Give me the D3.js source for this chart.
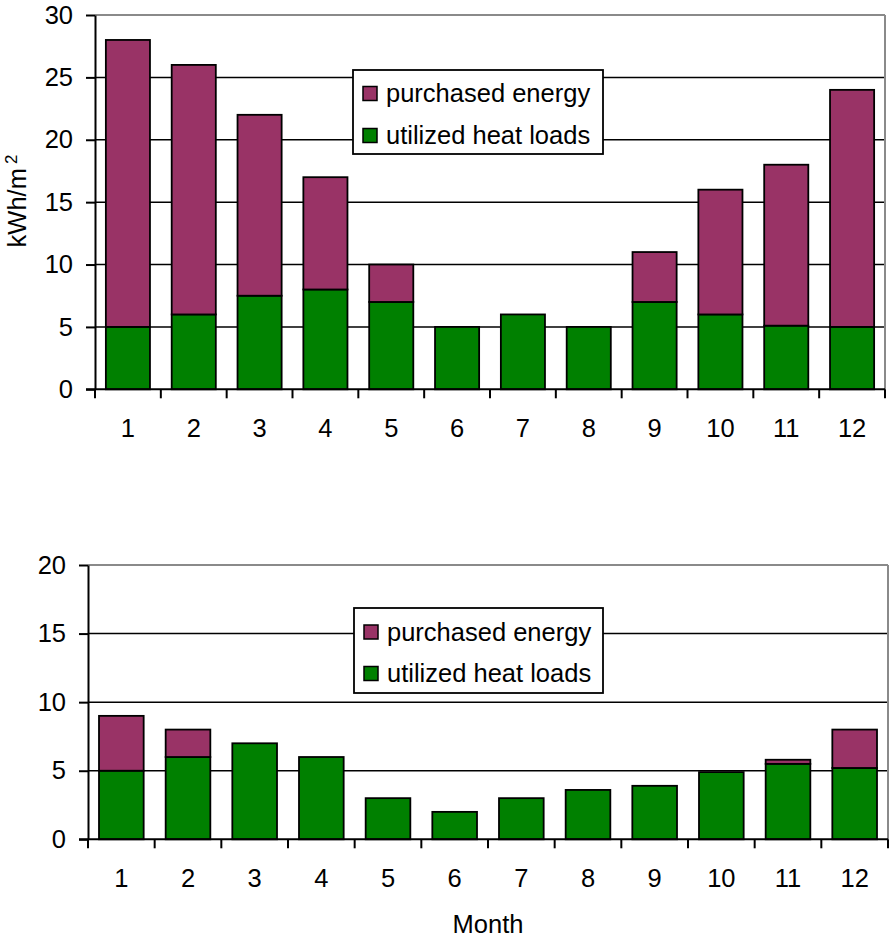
<!DOCTYPE html>
<html>
<head>
<meta charset="utf-8">
<script src="https://cdn.jsdelivr.net/npm/d3@7"></script>
<style>
  html, body { margin: 0; padding: 0; background: #fff; }
  svg { display: block; }
  text { font-family: "Liberation Sans", Arial, sans-serif; fill: #000; }
</style>
</head>
<body>
<svg id="chart" width="889" height="938"></svg>
<script>
// ---- data ----
const months = ["1","2","3","4","5","6","7","8","9","10","11","12"];
const seriesNames = ["purchased energy", "utilized heat loads"];
const seriesColors = ["#993366", "#008000"];

const topUtilized  = [5, 6, 7.5, 8, 7, 5, 6, 5, 7, 6, 5.1, 5];
const topPurchased = [23, 20, 14.5, 9, 3, 0, 0, 0, 4, 10, 12.9, 19];
const topTicks = [0, 5, 10, 15, 20, 25, 30];

const bottomUtilized  = [5, 6, 7, 6, 3, 2, 3, 3.6, 3.9, 4.9, 5.5, 5.2];
const bottomPurchased = [4, 2, 0, 0, 0, 0, 0, 0, 0, 0, 0.3, 2.8];
const bottomTicks = [0, 5, 10, 15, 20];

const yLabel = "kWh/m";
const yLabelSup = "2";
const xLabel = "Month";

// ---- drawing ----
const svg = d3.select("#chart");
const FONT = 25.5;

function drawPanel(cfg) {
  const g = svg.append("g");
  const x = d3.scaleBand().domain(months).range([cfg.left, cfg.right])
    .paddingInner(0.33).paddingOuter(0.165);
  const yMax = cfg.ticks[cfg.ticks.length - 1];
  const y = d3.scaleLinear().domain([0, yMax]).range([cfg.bottom, cfg.top]);

  // gridlines
  g.append("g").selectAll("line").data(cfg.ticks.filter(t => t > 0)).join("line")
    .attr("x1", cfg.left).attr("x2", cfg.right)
    .attr("y1", d => y(d)).attr("y2", d => y(d))
    .attr("stroke", d => d === yMax ? "#8a8a8a" : "#000")
    .attr("stroke-width", d => d === yMax ? 2 : 1.5);
  // right border
  g.append("line").attr("x1", cfg.right).attr("x2", cfg.right)
    .attr("y1", y(yMax)).attr("y2", y(0)).attr("stroke", "#8a8a8a").attr("stroke-width", 2);

  // y axis
  const yAxis = d3.axisLeft(y).tickValues(cfg.ticks).tickSize(9).tickPadding(13).tickSizeOuter(0);
  const ya = g.append("g").attr("transform", `translate(${cfg.left},0)`).call(yAxis);
  ya.select(".domain").attr("stroke", "#000").attr("stroke-width", 2);
  ya.selectAll(".tick line").attr("stroke", "#000").attr("stroke-width", 2);
  ya.selectAll(".tick text").attr("font-size", FONT).attr("font-family", "Liberation Sans, Arial, sans-serif").attr("fill", "#000");

  // bars
  const stacks = months.map((m, i) => ({ m, u: cfg.util[i], p: cfg.purch[i] }));
  g.append("g").selectAll("rect.u").data(stacks).join("rect")
    .attr("x", d => x(d.m)).attr("width", x.bandwidth())
    .attr("y", d => y(d.u)).attr("height", d => y(0) - y(d.u))
    .attr("fill", seriesColors[1]).attr("stroke", "#000").attr("stroke-width", 1.8);
  g.append("g").selectAll("rect.p").data(stacks.filter(d => d.p > 0)).join("rect")
    .attr("x", d => x(d.m)).attr("width", x.bandwidth())
    .attr("y", d => y(d.u + d.p)).attr("height", d => y(d.u) - y(d.u + d.p))
    .attr("fill", seriesColors[0]).attr("stroke", "#000").attr("stroke-width", 1.8);

  // x axis (ticks at category boundaries)
  const bounds = d3.range(months.length + 1).map(i => cfg.left + i * (cfg.right - cfg.left) / months.length);
  g.append("line").attr("x1", cfg.left - 9).attr("x2", cfg.right)
    .attr("y1", y(0)).attr("y2", y(0)).attr("stroke", "#000").attr("stroke-width", 2);
  g.append("g").selectAll("line").data(bounds).join("line")
    .attr("x1", d => d).attr("x2", d => d)
    .attr("y1", y(0)).attr("y2", y(0) + 9)
    .attr("stroke", "#000").attr("stroke-width", 2);
  g.append("g").selectAll("text").data(months).join("text")
    .attr("x", d => x(d) + x.bandwidth() / 2)
    .attr("y", cfg.xLabelBase)
    .attr("text-anchor", "middle").attr("font-size", FONT)
    .text(d => d);

  // legend
  const L = cfg.legend;
  const lg = g.append("g");
  lg.append("rect").attr("x", L.x).attr("y", L.y).attr("width", L.w).attr("height", L.h)
    .attr("fill", "#fff").attr("stroke", "#000").attr("stroke-width", 1.8);
  seriesNames.forEach((name, i) => {
    const cy = L.y + L.rowCenters[i];
    lg.append("rect").attr("x", L.x + 10).attr("y", cy - 7).attr("width", 14).attr("height", 14)
      .attr("fill", seriesColors[i]).attr("stroke", "#000").attr("stroke-width", 1.5);
    lg.append("text").attr("x", L.x + 33).attr("y", cy + 8.5)
      .attr("font-size", FONT).text(name);
  });
  return { x, y };
}

drawPanel({
  left: 95, right: 885, top: 15, bottom: 389.3,
  ticks: topTicks, util: topUtilized, purch: topPurchased,
  xLabelBase: 437,
  legend: { x: 353, y: 70, w: 250, h: 84, rowCenters: [23.5, 65.5] }
});

drawPanel({
  left: 88, right: 888, top: 565, bottom: 839.3,
  ticks: bottomTicks, util: bottomUtilized, purch: bottomPurchased,
  xLabelBase: 887,
  legend: { x: 354, y: 608, w: 249, h: 85, rowCenters: [24, 65.5] }
});

// y axis label (top panel)
const yl = svg.append("text")
  .attr("transform", "translate(26,201) rotate(-90)")
  .attr("text-anchor", "middle").attr("font-size", FONT);
yl.append("tspan").text(yLabel);
yl.append("tspan").attr("dx", 4).attr("dy", -9).attr("font-size", 17).text(yLabelSup);

// x axis label (bottom panel)
svg.append("text").attr("x", 488).attr("y", 933)
  .attr("text-anchor", "middle").attr("font-size", FONT).text(xLabel);
</script>
</body>
</html>
